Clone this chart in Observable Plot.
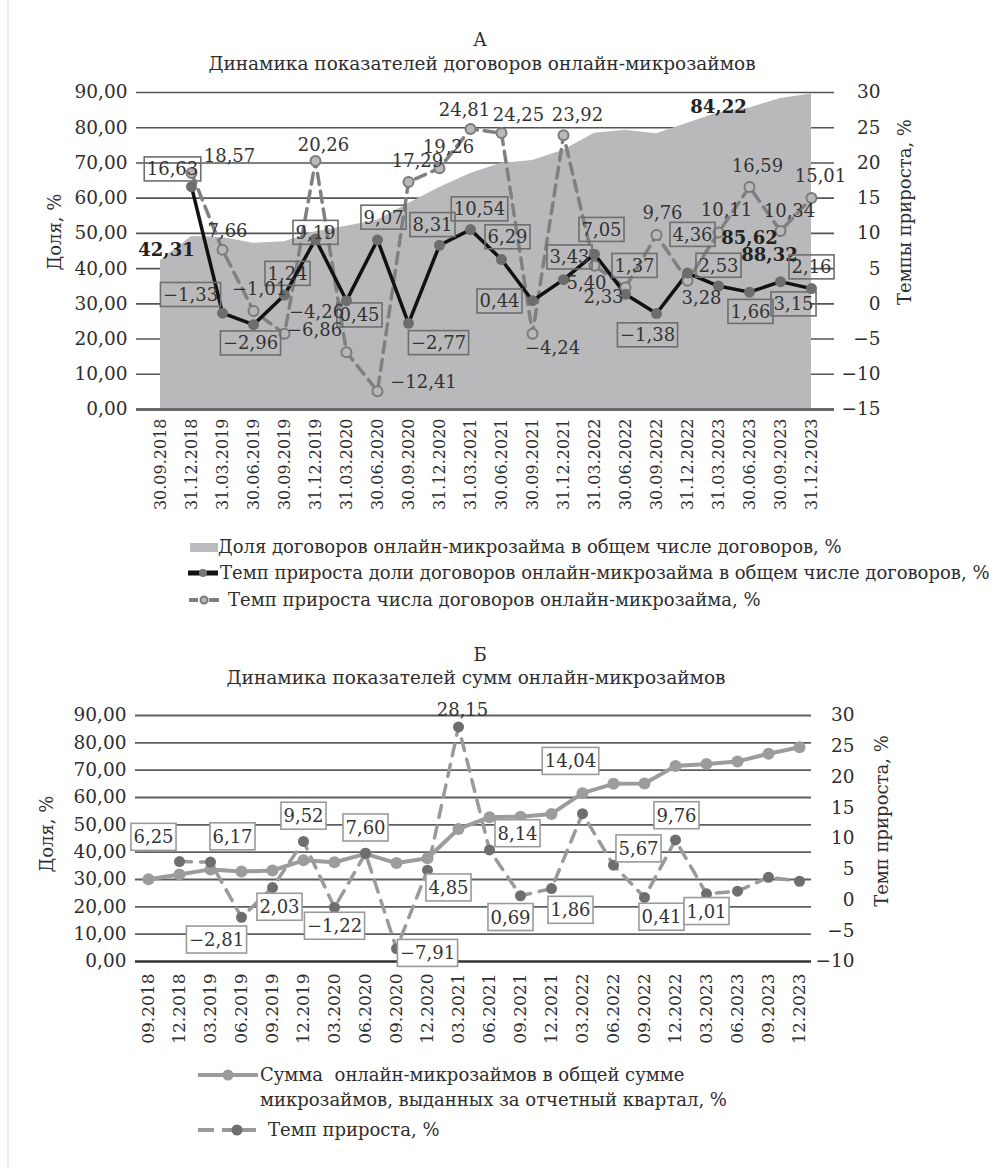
<!DOCTYPE html>
<html><head><meta charset="utf-8">
<script src="https://cdn.jsdelivr.net/npm/d3@7"></script>
<script src="https://cdn.jsdelivr.net/npm/@observablehq/plot@0.6"></script>
<style>
body{margin:0;background:#fff;font-family:"DejaVu Serif",serif;color:#2e2e2e;}
#page{position:relative;width:1004px;height:1168px;overflow:hidden;background:#fff;}
.abs{position:absolute;white-space:nowrap;line-height:1;}
.ctr{transform:translate(-50%,-50%);}
.rot{transform:translate(-50%,-50%) rotate(-90deg);}
.lg{transform:translateY(-50%);font-size:18px;}
svg.sw{position:absolute;overflow:visible;}
</style></head><body><div id="page"></div>
<script>
// ---------- DATA: chart A ----------
const quartersA = ["30.09.2018","31.12.2018","31.03.2019","30.06.2019","30.09.2019","31.12.2019","31.03.2020","30.06.2020","30.09.2020","31.12.2020","31.03.2021","30.06.2021","30.09.2021","31.12.2021","31.03.2022","30.06.2022","30.09.2022","31.12.2022","31.03.2023","30.06.2023","30.09.2023","31.12.2023"];
const shareContractsA = [42.31,49.1,48.8,47.2,47.6,50.5,52.0,53.7,58.5,63.0,67.0,69.9,70.7,73.6,78.4,79.3,78.3,81.3,84.22,85.62,88.32,89.6];
const shareGrowthA = [null,16.63,-1.33,-2.96,1.24,9.19,0.45,9.07,-2.77,8.31,10.54,6.29,0.44,3.43,7.05,1.37,-1.38,4.36,2.53,1.66,3.15,2.16];
const countGrowthA = [null,18.57,7.66,-1.01,-4.26,20.26,-6.86,-12.41,17.29,19.26,24.81,24.25,-4.24,23.92,5.40,2.33,9.76,3.28,10.11,16.59,10.34,15.01];
const leftTicksA = [0,10,20,30,40,50,60,70,80,90];
const rightTicksA = [-15,-10,-5,0,5,10,15,20,25,30];

// ---------- DATA: chart B ----------
const quartersB = ["09.2018","12.2018","03.2019","06.2019","09.2019","12.2019","03.2020","06.2020","09.2020","12.2020","03.2021","06.2021","09.2021","12.2021","03.2022","06.2022","09.2022","12.2022","03.2023","06.2023","09.2023","12.2023"];
const shareSumB = [30.1,31.8,33.7,32.9,33.3,37.0,36.3,39.4,36.0,37.8,48.5,52.8,53.0,54.0,61.6,65.0,65.1,71.5,72.3,73.2,76.0,78.4];
const sumGrowthB = [null,6.25,6.17,-2.81,2.03,9.52,-1.22,7.60,-7.91,4.85,28.15,8.14,0.69,1.86,14.04,5.67,0.41,9.76,1.01,1.43,3.70,3.05];
const leftTicksB = [0,10,20,30,40,50,60,70,80,90];
const rightTicksB = [-10,-5,0,5,10,15,20,25,30];

// ---------- label layout (pixel offsets, not data) ----------
const offShareA = {0:[6,-10],18:[0,-6],19:[0,130],20:[-11,157]};
const offShareGrowthA = [null,[-19,-17],[-32,-18],[-3,19],[3,-21],[0,-6],[13,15],[6,-22],[30,20],[-7,-20],[9,-20],[6,-22],[-33,1],[6,-22],[7,-24],[9,-28],[-9,22],[5,-38],[0,-20],[1,20],[13,23],[0,-21]];
const offCountGrowthA = [null,[38,-17],[5,-19],[6,-22],[32,-22],[8,-16],[-32,-22],[46,-9],[9,-21],[9,-21],[-6,-19],[17,-18],[20,15],[14,-20],[-8,17],[-22,10],[6,-22],[14,18],[8,-22],[8,-21],[9,-20],[9,-22]];
const offSumGrowthB = [null,[-26,-24],[22,-25],[-25,23],[7,20],[0,-25],[0,19],[0,-25],[31,5],[21,18],[4,-17],[28,-16],[-10,22],[19,22],[-12,-52],[25,-16],[17,20],[1,-24],[0,18],null,null,null];

const fmt2 = v => v.toFixed(2).replace(".", ",").replace("-", "\u2212");
const fmtInt = v => { const r = Math.round(v); return r < 0 ? "\u2212" + (-r) : String(r); };
const rA = r => (r + 15) * 2;      // right axis A -> left domain
const rB = r => (r + 10) * 2.25;   // right axis B -> left domain

const page = document.getElementById("page");
function addDiv(text, x, y, cls, extra) {
  const d = document.createElement("div");
  d.className = "abs " + cls;
  d.style.left = x + "px"; d.style.top = y + "px";
  d.textContent = text;
  if (extra) Object.assign(d.style, extra);
  page.appendChild(d);
  return d;
}
function addSvg(html, x, y, w, h) {
  const wrap = document.createElement("div");
  wrap.innerHTML = `<svg class="sw" width="${w}" height="${h}" style="left:${x}px;top:${y}px">${html}</svg>`;
  page.appendChild(wrap.firstChild);
}

const edge = document.createElement("div");
Object.assign(edge.style, {position:"absolute", left:"7px", top:"0", width:"2px", height:"1168px", background:"#ececec"});
page.appendChild(edge);

const baseStyle = {fontFamily: "DejaVu Serif", fontSize: "18px", color: "#2e2e2e", background: "transparent", overflow: "visible"};

// ---------- Chart A ----------
const rowsA = quartersA.map((q, i) => ({q, share: shareContractsA[i], gs: shareGrowthA[i], gc: countGrowthA[i]}));
const labelsA = [];
Object.keys(offShareA).forEach(k => {
  const i = +k, [dx, dy] = offShareA[k];
  labelsA.push(Plot.text([i], {x: i => quartersA[i], y: i => shareContractsA[i], text: i => fmt2(shareContractsA[i]), dx, dy, fontSize: 18, fontWeight: "bold", fill: "#222"}));
});
shareGrowthA.forEach((v, i) => {
  if (v == null) return;
  const [dx, dy] = offShareGrowthA[i];
  labelsA.push(Plot.text([i], {x: i => quartersA[i], y: i => rA(shareGrowthA[i]), text: i => fmt2(shareGrowthA[i]), dx, dy, fontSize: 18, fill: "#333", ariaDescription: "boxA"}));
});
countGrowthA.forEach((v, i) => {
  if (v == null) return;
  const [dx, dy] = offCountGrowthA[i];
  labelsA.push(Plot.text([i], {x: i => quartersA[i], y: i => rA(countGrowthA[i]), text: i => fmt2(countGrowthA[i]), dx, dy, fontSize: 18, fill: "#333"}));
});

const plotA = Plot.plot({
  width: 1004, height: 440, marginTop: 12, marginBottom: 111, marginLeft: 136, marginRight: 170,
  x: {type: "point", domain: quartersA, padding: 0.5},
  y: {domain: [0, 90]},
  style: baseStyle,
  marks: [
    Plot.ruleY(leftTicksA.filter(t => t > 0), {stroke: "#555", strokeWidth: 1.6}),
    Plot.areaY(rowsA, {x: "q", y: "share", fill: "#b9b9bb"}),
    Plot.ruleY([0], {stroke: "#6a6a6a", strokeWidth: 3}),
    Plot.axisY({ticks: leftTicksA, tickSize: 0, tickPadding: 9, tickFormat: fmt2, fontSize: 18.5, label: null}),
    Plot.axisY({ticks: rightTicksA.map(rA), anchor: "right", tickSize: 0, tickPadding: 46, textAnchor: "end", tickFormat: d => fmtInt(d / 2 - 15), fontSize: 18.5, label: null}),
    Plot.axisX({tickRotate: -90, tickSize: 0, tickPadding: 9, fontSize: 16, label: null}),
    Plot.line(rowsA, {x: "q", y: d => d.gc == null ? NaN : rA(d.gc), stroke: "#808080", strokeWidth: 3.5, strokeDasharray: "11,7"}),
    Plot.line(rowsA, {x: "q", y: d => d.gs == null ? NaN : rA(d.gs), stroke: "#111", strokeWidth: 3.5}),
    Plot.dot(rowsA, {x: "q", y: d => d.gc == null ? NaN : rA(d.gc), r: 5, fill: "#b8b8b8", stroke: "#7a7a7a", strokeWidth: 2}),
    Plot.dot(rowsA, {x: "q", y: d => d.gs == null ? NaN : rA(d.gs), r: 5.5, fill: "#6d6d6d"}),
    ...labelsA
  ]
});
plotA.style.position = "absolute"; plotA.style.left = "0px"; plotA.style.top = "80px";
page.appendChild(plotA);

// ---------- Chart B ----------
const rowsB = quartersB.map((q, i) => ({q, share: shareSumB[i], g: sumGrowthB[i]}));
const labelsB = [];
sumGrowthB.forEach((v, i) => {
  if (v == null || offSumGrowthB[i] == null) return;
  const [dx, dy] = offSumGrowthB[i];
  labelsB.push(Plot.text([i], {x: i => quartersB[i], y: i => rB(sumGrowthB[i]), text: i => fmt2(sumGrowthB[i]), dx, dy, fontSize: 18, fill: "#333", ariaDescription: i === 10 ? "plainB" : "boxB"}));
});
const plotB = Plot.plot({
  width: 1004, height: 355, marginTop: 15, marginBottom: 94, marginLeft: 135, marginRight: 193,
  x: {type: "point", domain: quartersB, padding: 0.2},
  y: {domain: [0, 90]},
  style: baseStyle,
  marks: [
    Plot.ruleY(leftTicksB.filter(t => t > 0), {stroke: "#5e5e5e", strokeWidth: 1.8}),
    Plot.ruleY([0], {stroke: "#333", strokeWidth: 2.5}),
    Plot.axisY({ticks: leftTicksB, tickSize: 0, tickPadding: 9, tickFormat: fmt2, fontSize: 18.5, label: null}),
    Plot.axisY({ticks: rightTicksB.map(rB), anchor: "right", tickSize: 0, tickPadding: 43, textAnchor: "end", tickFormat: d => fmtInt(d / 2.25 - 10), fontSize: 18.5, label: null}),
    Plot.axisX({tickRotate: -90, tickSize: 0, tickPadding: 12, fontSize: 17, label: null}),
    Plot.line(rowsB, {x: "q", y: d => d.g == null ? NaN : rB(d.g), stroke: "#9a9a9a", strokeWidth: 3.5, strokeDasharray: "12,9"}),
    Plot.line(rowsB, {x: "q", y: "share", stroke: "#9c9c9c", strokeWidth: 4}),
    Plot.dot(rowsB, {x: "q", y: "share", r: 6, fill: "#9c9c9c"}),
    Plot.dot(rowsB, {x: "q", y: d => d.g == null ? NaN : rB(d.g), r: 5.5, fill: "#6e6e6e"}),
    ...labelsB
  ]
});
plotB.style.position = "absolute"; plotB.style.left = "0px"; plotB.style.top = "700px";
page.appendChild(plotB);

// boxes behind labels
function boxify(svg, tag, stroke, fill, padX, padY) {
  svg.querySelectorAll(`g[aria-description="${tag}"] text`).forEach(t => {
    const b = t.getBBox();
    const r = document.createElementNS("http://www.w3.org/2000/svg", "rect");
    r.setAttribute("x", b.x - padX); r.setAttribute("y", b.y - padY);
    r.setAttribute("width", b.width + 2 * padX); r.setAttribute("height", b.height + 2 * padY);
    if (t.getAttribute("transform")) r.setAttribute("transform", t.getAttribute("transform"));
    r.setAttribute("fill", fill); r.setAttribute("stroke", stroke); r.setAttribute("stroke-width", "1.6");
    t.parentNode.insertBefore(r, t);
  });
}
boxify(plotA, "boxA", "#6e6e6e", "none", 2.5, 1.5);
boxify(plotB, "boxB", "#9a9a9a", "#fff", 2.5, 3);

// ---------- titles & axis titles ----------
addDiv("А", 480, 40, "ctr", {fontSize: "18px"});
addDiv("Динамика показателей договоров онлайн-микрозаймов", 482, 64, "ctr", {fontSize: "18.5px"});
addDiv("Доля, %", 55, 232, "rot", {fontSize: "18px"});
addDiv("Темпы прироста, %", 905, 212, "rot", {fontSize: "18px"});
addDiv("Б", 480, 655, "ctr", {fontSize: "18px"});
addDiv("Динамика показателей сумм онлайн-микрозаймов", 476, 678, "ctr", {fontSize: "18.5px"});
addDiv("Доля, %", 47, 834, "rot", {fontSize: "18px"});
addDiv("Темп прироста, %", 882, 821, "rot", {fontSize: "18px"});

// ---------- legend A ----------
addSvg(`<rect x="0" y="0" width="28" height="9" fill="#bbbbbd"/>`, 190, 543, 28, 9);
addDiv("Доля договоров онлайн-микрозайма в общем числе договоров, %", 218, 547, "lg");
addSvg(`<line x1="0" y1="5" x2="30" y2="5" stroke="#111" stroke-width="5"/><circle cx="15" cy="5" r="4" fill="#777"/>`, 188, 568, 30, 10);
addDiv("Темп прироста доли договоров онлайн-микрозайма в общем числе договоров, %", 220, 573, "lg");
addSvg(`<line x1="0" y1="5" x2="9" y2="5" stroke="#808080" stroke-width="4"/><line x1="20" y1="5" x2="30" y2="5" stroke="#808080" stroke-width="4"/><circle cx="15" cy="5" r="3.5" fill="#b8b8b8" stroke="#7a7a7a" stroke-width="2"/>`, 189, 595, 30, 10);
addDiv("Темп прироста числа договоров онлайн-микрозайма, %", 228, 600, "lg");

// ---------- legend B ----------
addSvg(`<line x1="0" y1="6" x2="60" y2="6" stroke="#9c9c9c" stroke-width="4"/><circle cx="30" cy="6" r="5.5" fill="#9c9c9c"/>`, 198, 1069, 60, 12);
addDiv("Сумма\u00a0 онлайн-микрозаймов в общей сумме", 260, 1075, "lg");
addDiv("микрозаймов, выданных за отчетный квартал, %", 260, 1100, "lg");
addSvg(`<line x1="0" y1="6" x2="16" y2="6" stroke="#9a9a9a" stroke-width="4"/><line x1="24" y1="6" x2="58" y2="6" stroke="#9a9a9a" stroke-width="4"/><circle cx="39" cy="6" r="5.5" fill="#6e6e6e"/>`, 198, 1124, 60, 12);
addDiv("Темп прироста, %", 268, 1130, "lg");
</script></body></html>
